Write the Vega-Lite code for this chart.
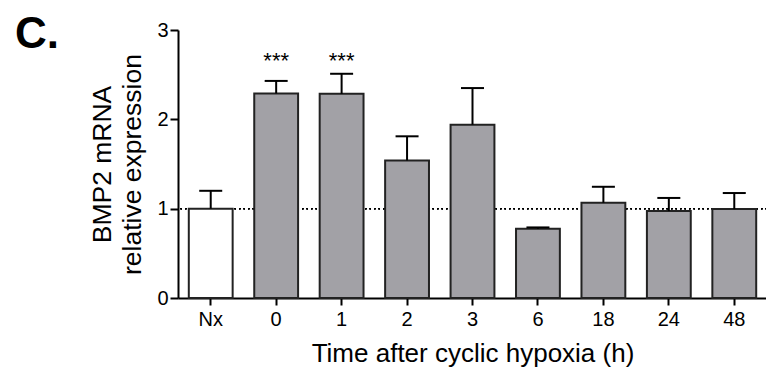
{
  "$schema": "https://vega.github.io/schema/vega-lite/v6.json",
  "width": 589,
  "height": 268,
  "autosize": {"type": "none"},
  "padding": {"left": 178, "top": 30, "right": 0, "bottom": 81},
  "background": "white",
  "config": {
    "font": "Liberation Sans",
    "view": {"stroke": null},
    "axis": {"grid": false, "domainColor": "black", "tickColor": "black", "labelColor": "black", "titleColor": "black", "titleFontWeight": "normal", "domainWidth": 2, "tickWidth": 2}
  },
  "title": {"text": "C.", "anchor": "start", "frame": "group", "fontSize": 44, "fontWeight": "bold", "color": "black", "dx": -163, "baseline": "alphabetic", "offset": 0, "dy": 72},
  "data": {
    "values": [
      {"t": "Nx", "kind": "normoxia", "mean": 1.0, "upper": 1.2, "sig": ""},
      {"t": "0", "kind": "hypoxia", "mean": 2.29, "upper": 2.43, "sig": "***"},
      {"t": "1", "kind": "hypoxia", "mean": 2.285, "upper": 2.51, "sig": "***"},
      {"t": "2", "kind": "hypoxia", "mean": 1.54, "upper": 1.81, "sig": ""},
      {"t": "3", "kind": "hypoxia", "mean": 1.94, "upper": 2.35, "sig": ""},
      {"t": "6", "kind": "hypoxia", "mean": 0.775, "upper": 0.79, "sig": ""},
      {"t": "18", "kind": "hypoxia", "mean": 1.066, "upper": 1.245, "sig": ""},
      {"t": "24", "kind": "hypoxia", "mean": 0.973, "upper": 1.12, "sig": ""},
      {"t": "48", "kind": "hypoxia", "mean": 0.995, "upper": 1.175, "sig": ""}
    ]
  },
  "encoding": {
    "x": {
      "field": "t", "type": "ordinal", "sort": null,
      "scale": {"paddingInner": 0.33, "paddingOuter": 0.165},
      "axis": {"labelAngle": 0, "labelFontSize": 20, "tickSize": 7, "labelPadding": 4, "title": "Time after cyclic hypoxia (h)", "titleFontSize": 26, "titlePadding": 11}
    }
  },
  "layer": [
    {
      "mark": {"type": "rule", "strokeDash": [1.5, 3], "strokeWidth": 1.2, "color": "black"},
      "encoding": {"x": null, "y": {"datum": 1, "type": "quantitative"}}
    },
    {
      "mark": {"type": "bar", "stroke": "#222222", "strokeWidth": 2},
      "encoding": {
        "y": {
          "field": "mean", "type": "quantitative",
          "scale": {"domain": [0, 3]},
          "axis": {"values": [0, 1, 2, 3], "format": "d", "labelFontSize": 20, "tickSize": 8, "labelPadding": 2, "title": ["BMP2 mRNA", "relative expression"], "titleFontSize": 26.5, "titleLineHeight": 30, "titlePadding": 10}
        },
        "fill": {"field": "kind", "type": "nominal", "scale": {"domain": ["normoxia", "hypoxia"], "range": ["white", "#a2a1a6"]}, "legend": null}
      }
    },
    {
      "mark": {"type": "rule", "strokeWidth": 2, "color": "black"},
      "encoding": {"y": {"field": "mean", "type": "quantitative"}, "y2": {"field": "upper"}}
    },
    {
      "mark": {"type": "tick", "orient": "horizontal", "size": 23, "thickness": 2, "color": "black", "opacity": 1},
      "encoding": {"y": {"field": "upper", "type": "quantitative"}}
    },
    {
      "mark": {"type": "text", "fontSize": 22, "baseline": "alphabetic", "color": "black"},
      "encoding": {"y": {"datum": 2.57, "type": "quantitative"}, "text": {"field": "sig"}}
    }
  ]
}
